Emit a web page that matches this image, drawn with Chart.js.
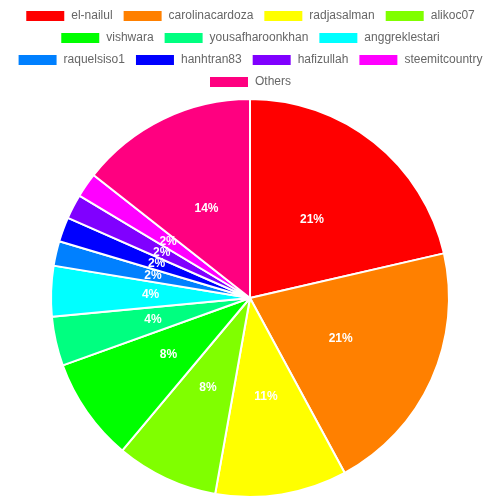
<!DOCTYPE html>
<html>
<head>
<meta charset="utf-8">
<script src="https://cdn.jsdelivr.net/npm/chart.js@4/dist/chart.umd.min.js"></script>
<style>
  html, body { margin: 0; padding: 0; background: #fff; }
  #wrap { width: 500px; height: 500px; }
</style>
</head>
<body>
<div id="wrap"><canvas id="myPieChart"></canvas></div>
<script>
var names = ["el-nailul", "carolinacardoza", "radjasalman", "alikoc07", "vishwara",
  "yousafharoonkhan", "anggreklestari", "raquelsiso1", "hanhtran83", "hafizullah",
  "steemitcountry", "Others"];
var shares = [21.4, 20.7, 10.7, 8.3, 8.4, 4.0, 4.1, 2.0, 2.0, 2.0, 2.0, 14.4];
var colors = ["#ff0000", "#ff8000", "#ffff00", "#80ff00", "#00ff00", "#00ff80",
  "#00ffff", "#0080ff", "#0000ff", "#8000ff", "#ff00ff", "#ff0080"];

// percent labels drawn in the middle of each slice
var pctLabels = {
  id: 'pctLabels',
  afterDatasetsDraw: function(chart) {
    var ctx = chart.ctx;
    var meta = chart.getDatasetMeta(0);
    var data = chart.data.datasets[0].data;
    var total = data.reduce(function(a, b) { return a + b; }, 0);
    ctx.save();
    ctx.font = 'bold 12px "Liberation Sans", Arial, sans-serif';
    ctx.fillStyle = '#fff';
    ctx.textAlign = 'center';
    ctx.textBaseline = 'middle';
    meta.data.forEach(function(arc, i) {
      var p = arc.getProps(['x', 'y', 'startAngle', 'endAngle', 'outerRadius']);
      var mid = (p.startAngle + p.endAngle) / 2;
      var r = p.outerRadius / 2;
      ctx.fillText(Math.round(data[i] / total * 100) + '%', p.x + Math.cos(mid) * r, p.y + Math.sin(mid) * r);
    });
    ctx.restore();
  }
};

var ctx = document.getElementById("myPieChart").getContext('2d');
var myPieChart = new Chart(ctx, {
  type: 'pie',
  data: {
    labels: names,
    datasets: [{
      data: shares,
      backgroundColor: colors,
      borderColor: '#fff',
      borderWidth: 2
    }]
  },
  options: {
    responsive: true,
    maintainAspectRatio: false,
    animation: false,
    layout: { padding: { bottom: 2 } },
    plugins: {
      legend: {
        position: 'top',
        labels: {
          boxWidth: 40,
          boxHeight: 12,
          padding: 10,
          color: '#666',
          font: { family: '"Liberation Sans", Arial, sans-serif', size: 12 }
        }
      },
      tooltip: { enabled: false }
    }
  },
  plugins: [pctLabels]
});
</script>
</body>
</html>
